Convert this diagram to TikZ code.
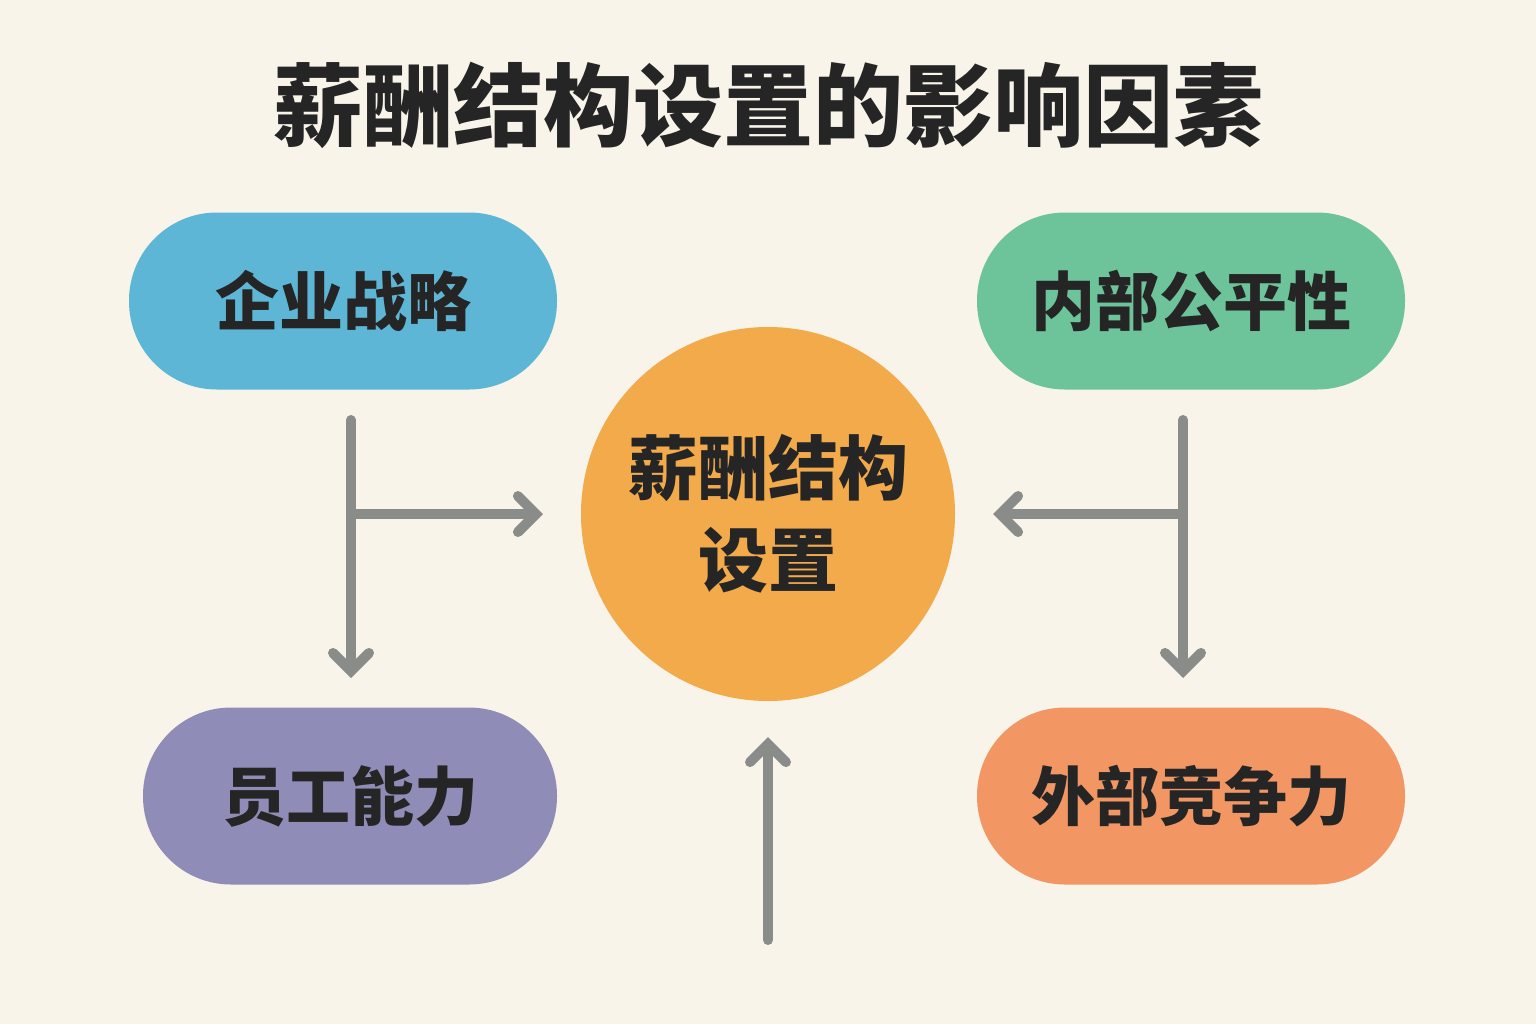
\documentclass[tikz,border=0pt]{standalone}
\usepackage{fontspec}
\newfontfamily\cjk{Noto Sans CJK SC}
\usetikzlibrary{arrows.meta}
\definecolor{bg}{HTML}{F8F4EA}
\definecolor{cblue}{HTML}{5DB6D6}
\definecolor{cgreen}{HTML}{6DC39A}
\definecolor{cpurple}{HTML}{8F8CB8}
\definecolor{corange}{HTML}{F29763}
\definecolor{ccirc}{HTML}{F2AA4B}
\definecolor{cgray}{HTML}{8A8C8A}
\definecolor{ctext}{HTML}{252525}
\begin{document}
\begin{tikzpicture}[x=0.5pt,y=-0.5pt,
  pill/.style={rounded corners=44pt,minimum width=214pt,minimum height=88.5pt,inner sep=0pt,text=ctext,font=\cjk\bfseries\fontsize{32}{36}\selectfont},
  conn/.style={draw=cgray,line width=5pt,line cap=round,-{Straight Barb[length=9pt,width=18pt,line width=5pt,line cap=round]}},
  seg/.style={draw=cgray,line width=5pt,line cap=round}]
\fill[bg] (0,0) rectangle (1536,1024);
\node[text=ctext,font=\cjk\bfseries\fontsize{45}{50}\selectfont] (title) at (768,105) {薪酬结构设置的影响因素};
\node[pill,fill=cblue] (a) at (343,301) {企业战略};
\node[pill,fill=cgreen] (b) at (1191,301) {内部公平性};
\node[pill,fill=cpurple,minimum width=207pt] (c) at (350,796) {员工能力};
\node[pill,fill=corange] (d) at (1191,796) {外部竞争力};
\node[circle,fill=ccirc,minimum size=187pt,inner sep=0pt,align=center,text=ctext,font=\cjk\bfseries\fontsize{35}{46}\selectfont] (m) at (768,514) {薪酬结构\\设置};
\coordinate (l1) at (351,420); \coordinate (l2) at (351,514);
\coordinate (r1) at (1183,420); \coordinate (r2) at (1183,514);
\coordinate (bot) at (768,940);
\draw[seg] (l1) -- (l2);
\draw[conn] (l2) -- (351,678);
\draw[conn] (l2) -- (543,514);
\draw[seg] (r1) -- (r2);
\draw[conn] (r2) -- (1183,678);
\draw[conn] (r2) -- (993,514);
\draw[conn] (bot) -- (768,737);
\end{tikzpicture}
\end{document}
